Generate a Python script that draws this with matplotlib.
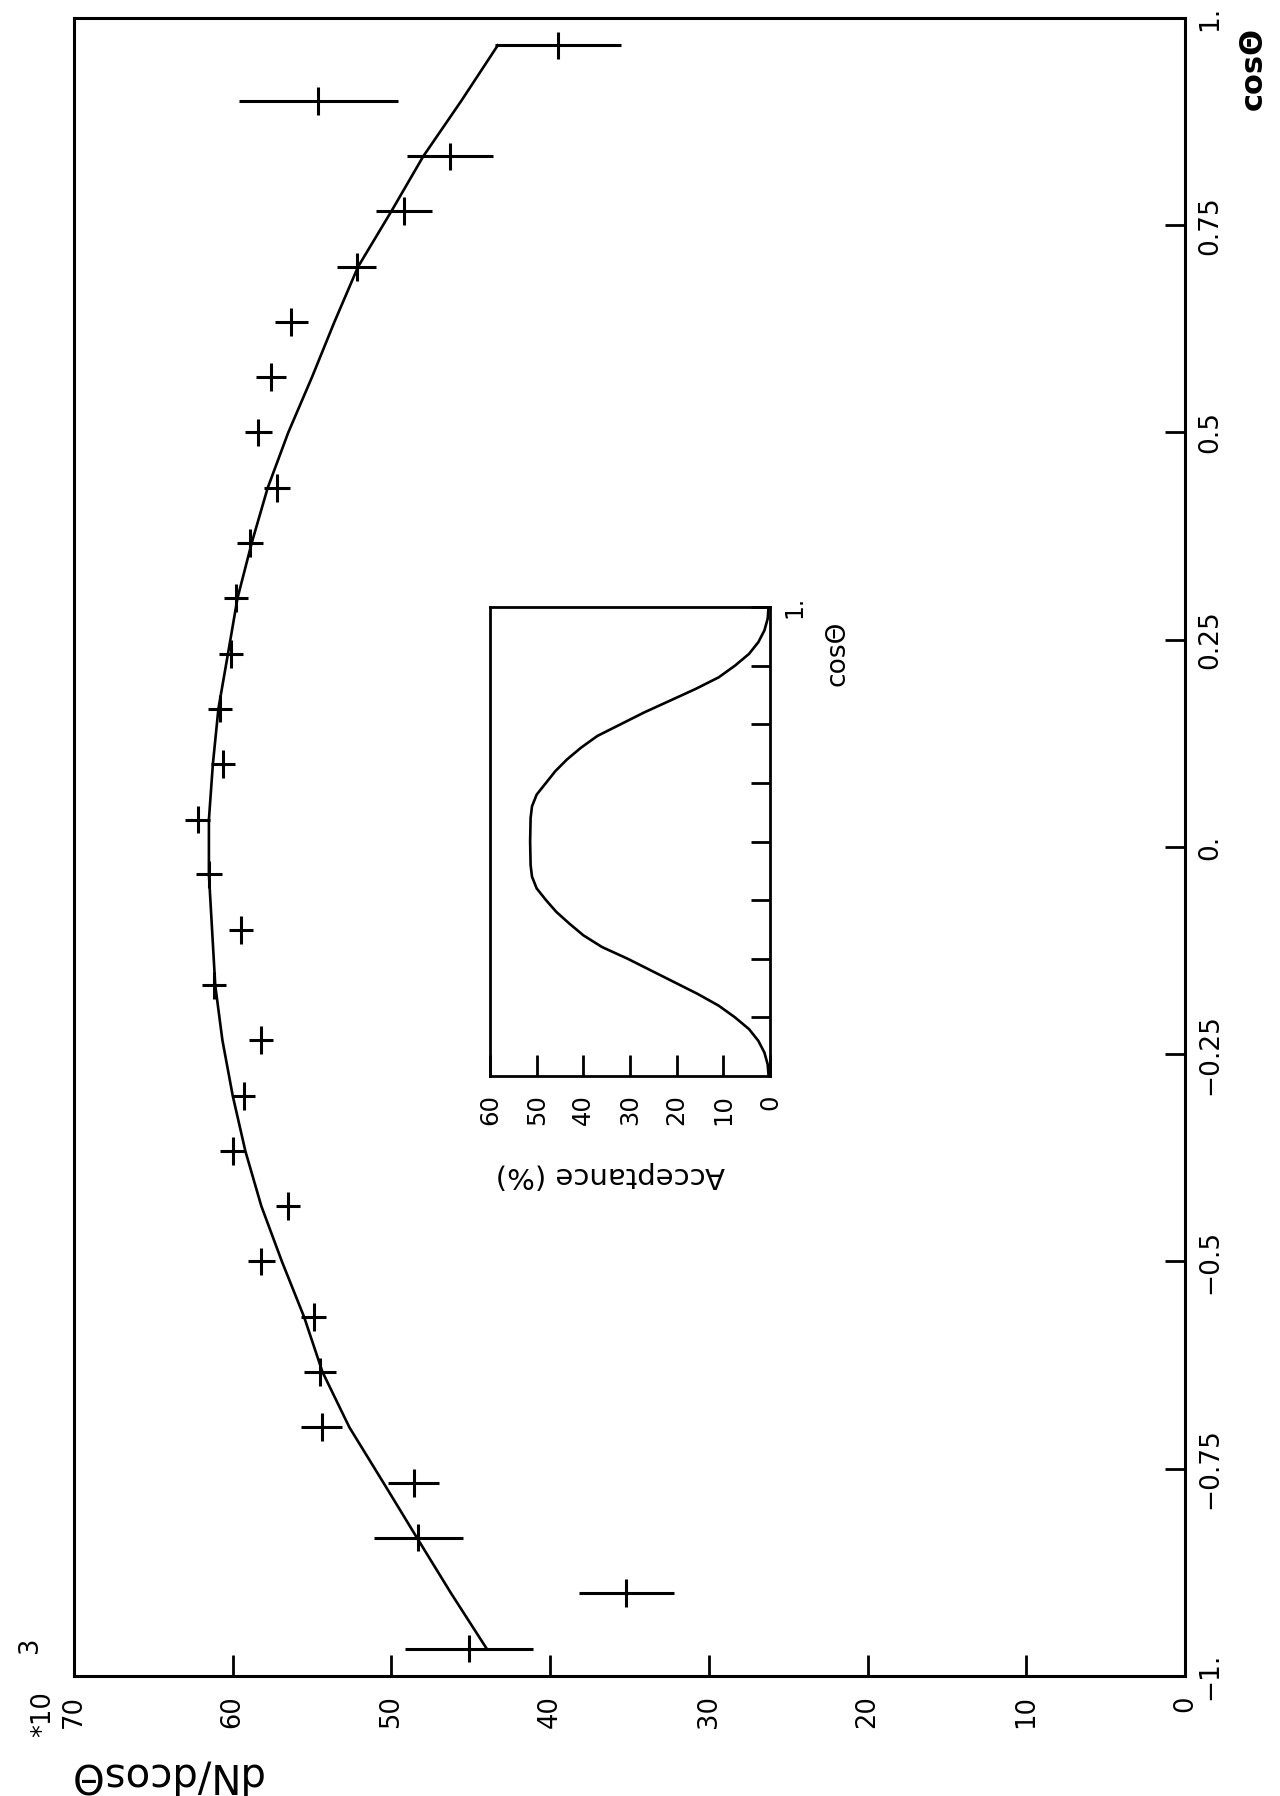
import matplotlib
matplotlib.use("Agg")
from matplotlib import pyplot as plt

# page is turned by 90 degrees: cos(theta) runs up the page, dN/dcos runs leftwards
cos_bins = [-0.967, -0.9, -0.833, -0.767, -0.7, -0.633, -0.567, -0.5, -0.433, -0.367,
            -0.3, -0.233, -0.167, -0.1, -0.033, 0.033, 0.1, 0.167, 0.233, 0.3,
            0.367, 0.433, 0.5, 0.567, 0.633, 0.7, 0.767, 0.833, 0.9, 0.967]
dn_vals = [45.1, 35.2, 48.3, 48.6, 54.4, 54.5, 54.9, 58.2, 56.5, 60.0,
           59.3, 58.2, 61.2, 59.5, 61.5, 62.2, 60.6, 60.8, 60.1, 59.8,
           58.9, 57.2, 58.4, 57.6, 56.3, 52.2, 49.2, 46.3, 54.6, 39.5]
dn_errs = [4.05, 3.0, 2.8, 1.6, 1.3, 1.0, 0.8, 0.85, 0.75, 0.8,
           0.7, 0.75, 0.75, 0.75, 0.8, 0.8, 0.75, 0.75, 0.75, 0.75,
           0.8, 0.8, 0.85, 0.95, 1.05, 1.2, 1.75, 2.7, 5.0, 3.95]
bin_half = 0.0167
fit_vals = [44.0, 46.25, 48.4, 50.5, 52.65, 54.35, 55.5, 56.9, 58.2, 59.2,
            60.0, 60.65, 61.1, 61.3, 61.5, 61.5, 61.25, 60.9, 60.3, 59.7,
            58.8, 57.8, 56.5, 55.0, 53.6, 52.1, 50.0, 48.0, 45.6, 43.3]

acc_cos = [-1.0, -0.95, -0.9, -0.85, -0.8, -0.75, -0.7, -0.65, -0.6, -0.55,
           -0.5, -0.45, -0.4, -0.35, -0.3, -0.25, -0.2, -0.15, -0.1, 0.0,
           0.1, 0.15, 0.2, 0.25, 0.3, 0.35, 0.4, 0.45, 0.5, 0.55,
           0.6, 0.65, 0.7, 0.75, 0.8, 0.85, 0.9, 0.95, 1.0]
acc_vals = [0.3, 0.5, 1.2, 2.5, 4.5, 7.5, 11.0, 15.5, 20.5, 25.5,
            30.5, 36.0, 40.0, 43.0, 45.8, 48.0, 50.0, 51.0, 51.3, 51.4,
            51.3, 51.0, 50.0, 48.0, 46.0, 43.5, 40.5, 37.0, 32.0, 27.0,
            21.5, 16.0, 11.0, 7.5, 4.5, 2.5, 1.2, 0.5, 0.3]

dn_ticks = [0, 10, 20, 30, 40, 50, 60, 70]
cos_ticks = [-1, -0.75, -0.5, -0.25, 0, 0.25, 0.5, 0.75, 1]
cos_labels = ["\u22121.", "\u22120.75", "\u22120.5", "\u22120.25", "0.", "0.25", "0.5", "0.75", "1."]
acc_ticks = [0, 10, 20, 30, 40, 50, 60]
acc_cos_ticks = [-0.75, -0.5, -0.25, 0, 0.25, 0.5, 0.75, 1]

W, H = 1280, 1796


def box(l, t, r, b):
    return [l / W, 1 - b / H, (r - l) / W, (b - t) / H]


fig = plt.figure(figsize=(W / 100, H / 100), dpi=100)

ax = fig.add_axes(box(74, 18, 1185, 1676))
ax.errorbar(dn_vals, cos_bins, xerr=dn_errs, yerr=bin_half, fmt="none",
            ecolor="black", elinewidth=2.2, capsize=0)
ax.plot(fit_vals, cos_bins, color="black", lw=1.9)
ax.set_xlim(70, 0)
ax.set_ylim(-1, 1)
for s in ax.spines.values():
    s.set_linewidth(2.2)
ax.set_xticks(dn_ticks)
ax.set_xticklabels([str(t) for t in dn_ticks], rotation=90)
ax.yaxis.tick_right()
ax.set_yticks(cos_ticks)
ax.set_yticklabels(cos_labels, rotation=90, va="center")
ax.tick_params(axis="x", direction="in", length=15, width=2, labelsize=18.5, pad=14)
ax.tick_params(axis="y", direction="in", length=14.5, width=2, labelsize=19, pad=9)

fig.text(1253 / W, 1 - 68 / H, "cos\u0398", rotation=90, fontsize=22,
         fontweight="bold", ha="center", va="center")
fig.text(165 / W, 1 - 1774 / H, "dN/dcos\u0398", rotation=180, fontsize=29,
         ha="center", va="center")
fig.text(43 / W, 1 - 1714 / H, "*10", rotation=90, fontsize=18.5, ha="center", va="center")
fig.text(30 / W, 1 - 1645 / H, "3", rotation=90, fontsize=18.5, ha="center", va="center")

# acceptance inset
axi = fig.add_axes(box(490, 607, 770, 1076))
axi.plot(acc_vals, acc_cos, color="black", lw=1.9)
axi.set_xlim(60, 0)
axi.set_ylim(-1, 1)
for s in axi.spines.values():
    s.set_linewidth(2.0)
axi.set_xticks(acc_ticks)
axi.set_xticklabels([str(t) for t in acc_ticks], rotation=90)
axi.yaxis.tick_right()
axi.set_yticks(acc_cos_ticks)
axi.set_yticklabels([""] * 7 + ["1."], rotation=90, va="center")
axi.tick_params(axis="x", direction="in", length=15, width=2, labelsize=17.5, pad=13)
axi.tick_params(axis="y", direction="in", length=14, width=2, labelsize=17, pad=9)
fig.text(838 / W, 1 - 653 / H, "cos\u0398", rotation=90, fontsize=19, ha="center", va="center")
fig.text(610 / W, 1 - 1175 / H, "Acceptance (%)", rotation=180, fontsize=21,
         ha="center", va="center")

fig.savefig("out.png", dpi=100)
